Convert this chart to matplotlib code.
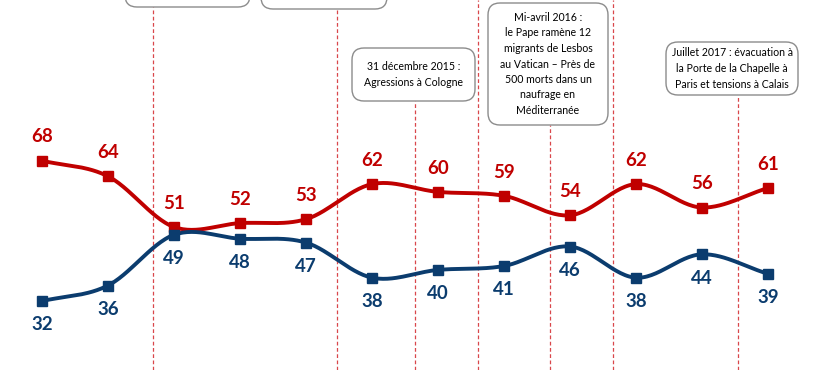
import numpy as np
import matplotlib
matplotlib.use("Agg")
import matplotlib.pyplot as plt
from matplotlib.patches import FancyBboxPatch
from matplotlib.transforms import Affine2D

# ---- data ----
periods = list(range(12))
red_values = [68, 64, 51, 52, 53, 62, 60, 59, 54, 62, 56, 61]
blue_values = [32, 36, 49, 48, 47, 38, 40, 41, 46, 38, 44, 39]
event_positions = [1.68, 4.47, 5.65, 6.60, 7.70, 8.65, 10.55]
event_texts = ["", "", "31 décembre 2015 :\nAgressions à Cologne", "",
               "Mi-avril 2016 :\nle Pape ramène 12\nmigrants de Lesbos\nau Vatican – Près de\n500 morts dans un\nnaufrage en\nMéditerranée", "",
               "Juillet 2017 : évacuation à\nla Porte de la Chapelle à\nParis et tensions à Calais"]

RED = "#C00000"
BLUE = "#0B3C6E"
W, H = 832, 370

fig = plt.figure(figsize=(W / 100, H / 100), dpi=100)
ax = fig.add_axes([0, 0, 1, 1])
ax.set_xlim(-42 / 66, (W - 42) / 66)
ax.set_ylim(51 - (H - 227) / 3.9, 51 + 227 / 3.9)
ax.axis("off")

# pixel transform (top-left origin)
pix = Affine2D().scale(1 / 100, -1 / 100).translate(0, H / 100) + fig.dpi_scale_trans


def smooth(xs, ys, n=30):
    xs = np.asarray(xs, float)
    ys = np.asarray(ys, float)
    px = np.concatenate([[2 * xs[0] - xs[1]], xs, [2 * xs[-1] - xs[-2]]])
    py = np.concatenate([[2 * ys[0] - ys[1]], ys, [2 * ys[-1] - ys[-2]]])
    ox, oy = [], []
    for i in range(1, len(px) - 2):
        t = np.linspace(0, 1, n, endpoint=False)
        for arr, out in ((px, ox), (py, oy)):
            p0, p1, p2, p3 = arr[i - 1], arr[i], arr[i + 1], arr[i + 2]
            out.extend(0.5 * ((2 * p1) + (-p0 + p2) * t + (2 * p0 - 5 * p1 + 4 * p2 - p3) * t ** 2
                              + (-p0 + 3 * p1 - 3 * p2 + p3) * t ** 3))
    ox.append(xs[-1]); oy.append(ys[-1])
    return np.array(ox), np.array(oy)


# event lines (data x) and boxes (pixel layout)
line_tops = [7, 9, 101, 0, 125, 0, 95]
boxes = {0: (125, -40, 250, 7), 1: (261, -40, 387, 9), 2: (352, 48, 475, 101),
         4: (488, 3, 608, 125), 6: (666, 42, 798, 95)}
for k, xe in enumerate(event_positions):
    top_frac = 1 - line_tops[k] / H
    ax.plot([xe, xe], [ax.get_ylim()[0], ax.get_ylim()[0] + top_frac * (ax.get_ylim()[1] - ax.get_ylim()[0])],
            color="#D9474B", lw=0.9, ls=(0, (3, 2)), zorder=1)
    if k in boxes:
        x0, y0, x1, y1 = boxes[k]
        p = FancyBboxPatch((x0 + 10, y0 + 10), x1 - x0 - 20, y1 - y0 - 20,
                           boxstyle="round,pad=10,rounding_size=12",
                           transform=pix, fc="white", ec="#8C8C8C", lw=1.0, zorder=3)
        fig.add_artist(p)
        if event_texts[k]:
            fig.text((x0 + x1) / 2 / W, 1 - (y0 + y1) / 2 / H, event_texts[k], ha="center", va="center",
                     fontsize=7.6, family=["Lato", "DejaVu Sans"], linespacing=1.5, zorder=4)

for vals, col, off, va in ((red_values, RED, 3.9, "bottom"), (blue_values, BLUE, -3.9, "top")):
    sx, sy = smooth(periods, vals)
    ax.plot(sx, sy, color=col, lw=2.8, zorder=5, solid_capstyle="round")
    ax.plot(periods, vals, ls="none", marker="s", ms=7.5, color=col, zorder=6)
    for x, v in zip(periods, vals):
        ax.text(x, v + off, str(v), ha="center", va=va, color=col, fontsize=13.5,
                fontweight="bold", family=["Lato", "DejaVu Sans"], zorder=7)

fig.savefig("out.png", dpi=100)
